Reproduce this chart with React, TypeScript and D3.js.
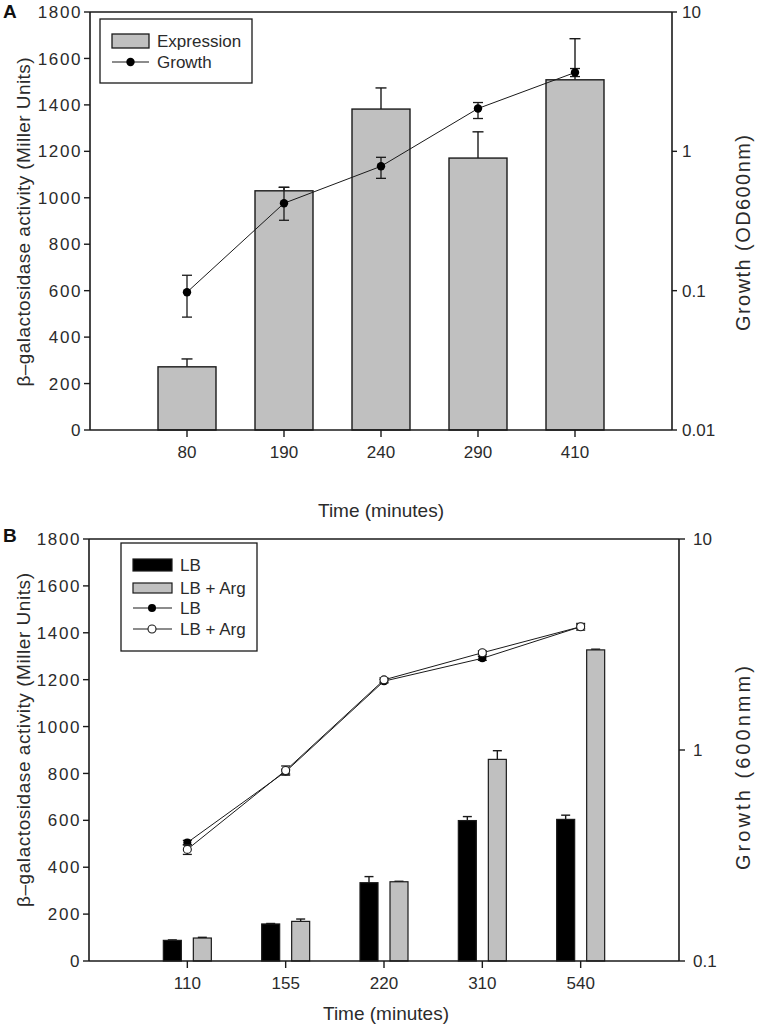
import React from "react";
import * as d3 from "d3";

// ---------- Panel A data ----------
const timesA = ["80", "190", "240", "290", "410"];
const expression = [272, 1030, 1382, 1171, 1508];
const expressionErrTop = [306, 1045, 1473, 1284, 1685];
const growthA = [0.0975, 0.424, 0.781, 2.03, 3.68];
const growthALo = [0.0646, 0.32, 0.64, 1.72, 3.44];
const growthAHi = [0.129, 0.552, 0.906, 2.24, 3.93];

// ---------- Panel B data ----------
const timesB = ["110", "155", "220", "310", "540"];
const lbBars = [88, 158, 334, 599, 604];
const lbBarsErrTop = [90, 160, 360, 616, 622];
const argBars = [98, 169, 338, 860, 1327];
const argBarsErrTop = [101, 179, 340, 897, 1330];
const growthLB = [0.364, 0.79, 2.12, 2.72, 3.84];
const growthLBLo = [0.355, 0.77, 2.08, 2.66, 3.76];
const growthLBHi = [0.373, 0.81, 2.16, 2.78, 3.92];
const growthArg = [0.338, 0.8, 2.15, 2.89, 3.84];
const growthArgLo = [0.32, 0.76, 2.1, 2.83, 3.7];
const growthArgHi = [0.356, 0.84, 2.2, 2.95, 3.98];

// ---------- Axis ticks ----------
const leftTicks = [0, 200, 400, 600, 800, 1000, 1200, 1400, 1600, 1800];
const rightTicksA = [0.01, 0.1, 1, 10];
const rightTickLabelsA = ["0.01", "0.1", "1", "10"];
const rightTicksB = [0.1, 1, 10];
const rightTickLabelsB = ["0.1", "1", "10"];

const FONT = "'Liberation Sans', Arial, Helvetica, sans-serif";
const TXT = "#2b2b2b";
const AX = "#1a1a1a";
const GRAY = "#c0c0c0";

type Geo = { left: number; right: number; top: number; bottom: number };

function Frame({ g, x, yL, yR, cats, rTicks, rLabels, rLabelOff, rTickLen }: any) {
  return (
    <g>
      <line x1={g.left} x2={g.right} y1={g.top} y2={g.top} stroke={AX} strokeWidth={1.4} />
      <line x1={g.left} x2={g.right} y1={g.bottom} y2={g.bottom} stroke={AX} strokeWidth={1.6} />
      <line x1={g.left} x2={g.left} y1={g.top} y2={g.bottom} stroke={AX} strokeWidth={1.6} />
      <line x1={g.right} x2={g.right} y1={g.top} y2={g.bottom} stroke={AX} strokeWidth={1.6} />
      {leftTicks.map((t) => (
        <g key={"l" + t}>
          <line x1={g.left - 6} x2={g.left} y1={yL(t)} y2={yL(t)} stroke={AX} strokeWidth={1.4} />
          <text x={g.left - 8} y={yL(t)} dy="0.36em" textAnchor="end" fontSize={17} fill={TXT} letterSpacing={1.6}>
            {t}
          </text>
        </g>
      ))}
      {rTicks.map((t: number, i: number) => (
        <g key={"r" + t}>
          <line x1={g.right} x2={g.right + rTickLen} y1={yR(t)} y2={yR(t)} stroke={AX} strokeWidth={1.4} />
          <text x={g.right + rLabelOff} y={yR(t)} dy="0.36em" textAnchor="start" fontSize={17} fill={TXT}>
            {rLabels[i]}
          </text>
        </g>
      ))}
      {cats.map((c: string) => (
        <g key={"x" + c}>
          <line x1={x(c)} x2={x(c)} y1={g.bottom} y2={g.bottom + 7} stroke={AX} strokeWidth={1.4} />
          <text x={x(c)} y={g.bottom + 28} textAnchor="middle" fontSize={17} fill={TXT}>
            {c}
          </text>
        </g>
      ))}
    </g>
  );
}

function ErrUp({ x, y0, y1, w }: any) {
  return (
    <g stroke={AX} strokeWidth={1.4}>
      <line x1={x} x2={x} y1={y0} y2={y1} />
      <line x1={x - w} x2={x + w} y1={y1} y2={y1} />
    </g>
  );
}

function ErrBoth({ x, ylo, yhi, w }: any) {
  return (
    <g stroke={AX} strokeWidth={1.3}>
      <line x1={x} x2={x} y1={ylo} y2={yhi} />
      <line x1={x - w} x2={x + w} y1={ylo} y2={ylo} />
      <line x1={x - w} x2={x + w} y1={yhi} y2={yhi} />
    </g>
  );
}

export default function App() {
  const gA: Geo = { left: 90, right: 672, top: 12, bottom: 430 };
  const xA = d3.scalePoint<string>().domain(timesA).range([gA.left, gA.right]).padding(1);
  const yAL = d3.scaleLinear().domain([0, 1800]).range([gA.bottom, gA.top]);
  const yAR = d3.scaleLog().domain([0.01, 10]).range([gA.bottom, gA.top]);
  const barWA = 58;
  const lineA = d3
    .line<number>()
    .x((_, i) => xA(timesA[i]) as number)
    .y((d) => yAR(d));

  const gB: Geo = { left: 89, right: 679, top: 539, bottom: 961 };
  const xB = d3.scalePoint<string>().domain(timesB).range([gB.left, gB.right]).padding(1);
  const yBL = d3.scaleLinear().domain([0, 1800]).range([gB.bottom, gB.top]);
  const yBR = d3.scaleLog().domain([0.1, 10]).range([gB.bottom, gB.top]);
  const barWB = 18;
  const offB = 15;
  const lineB = (arr: number[]) =>
    d3
      .line<number>()
      .x((_, i) => xB(timesB[i]) as number)
      .y((d) => yBR(d))(arr) as string;

  return (
    <svg
      width={760}
      height={1034}
      style={{ position: "absolute", left: 0, top: 0, background: "#fff" }}
      fontFamily={FONT}
    >
      <rect x={0} y={0} width={760} height={1034} fill="#fff" />

      {/* ================= Panel A ================= */}
      <text x={3} y={18} fontSize={19} fontWeight="bold" fill="#111">A</text>
      {timesA.map((t, i) => {
        const cx = xA(t) as number;
        return (
          <g key={"ba" + t}>
            <ErrUp x={cx} y0={yAL(expression[i])} y1={yAL(expressionErrTop[i])} w={5.5} />
            <rect
              x={cx - barWA / 2}
              y={yAL(expression[i])}
              width={barWA}
              height={yAL(0) - yAL(expression[i])}
              fill={GRAY}
              stroke={AX}
              strokeWidth={1.4}
            />
          </g>
        );
      })}
      <path d={lineA(growthA) as string} fill="none" stroke={AX} strokeWidth={1} />
      {timesA.map((t, i) => (
        <g key={"ga" + t}>
          <ErrBoth x={xA(t)} ylo={yAR(growthALo[i])} yhi={yAR(growthAHi[i])} w={5} />
          <circle cx={xA(t)} cy={yAR(growthA[i])} r={4.2} fill="#000" />
        </g>
      ))}
      <Frame
        g={gA}
        x={xA}
        yL={yAL}
        yR={yAR}
        cats={timesA}
        rTicks={rightTicksA}
        rLabels={rightTickLabelsA}
        rLabelOff={10}
        rTickLen={5}
      />
      <rect x={100} y={19} width={152} height={64} fill="#fff" stroke={AX} strokeWidth={1.3} />
      <rect x={112} y={34} width={37} height={14} fill={GRAY} stroke={AX} strokeWidth={1.3} />
      <text x={157} y={41} dy="0.36em" fontSize={17} fill={TXT}>Expression</text>
      <line x1={112} x2={149} y1={62} y2={62} stroke={AX} strokeWidth={1.2} />
      <circle cx={130.5} cy={62} r={4.2} fill="#000" />
      <text x={157} y={62} dy="0.36em" fontSize={17} fill={TXT}>Growth</text>
      <text x={381} y={517} textAnchor="middle" fontSize={19} fill={TXT}>Time (minutes)</text>
      <text
        transform="translate(30,222) rotate(-90)"
        textAnchor="middle"
        fontSize={19}
        fill={TXT}
        textLength={329}
        lengthAdjust="spacing"
      >
        β–galactosidase activity (Miller Units)
      </text>
      <text
        transform="translate(750,233) rotate(-90)"
        textAnchor="middle"
        fontSize={20}
        fill={TXT}
        textLength={196}
        lengthAdjust="spacing"
      >
        Growth (OD600nm)
      </text>

      {/* ================= Panel B ================= */}
      <text x={3} y={542} fontSize={19} fontWeight="bold" fill="#111">B</text>
      {timesB.map((t, i) => {
        const cx = xB(t) as number;
        return (
          <g key={"bb" + t}>
            <ErrUp x={cx - offB} y0={yBL(lbBars[i])} y1={yBL(lbBarsErrTop[i])} w={4.5} />
            <rect
              x={cx - offB - barWB / 2}
              y={yBL(lbBars[i])}
              width={barWB}
              height={yBL(0) - yBL(lbBars[i])}
              fill="#000"
              stroke={AX}
              strokeWidth={1.2}
            />
            <ErrUp x={cx + offB} y0={yBL(argBars[i])} y1={yBL(argBarsErrTop[i])} w={4.5} />
            <rect
              x={cx + offB - barWB / 2}
              y={yBL(argBars[i])}
              width={barWB}
              height={yBL(0) - yBL(argBars[i])}
              fill={GRAY}
              stroke={AX}
              strokeWidth={1.2}
            />
          </g>
        );
      })}
      <path d={lineB(growthLB)} fill="none" stroke={AX} strokeWidth={1} />
      <path d={lineB(growthArg)} fill="none" stroke={AX} strokeWidth={1} />
      {timesB.map((t, i) => (
        <g key={"gb" + t}>
          <ErrBoth x={xB(t)} ylo={yBR(growthLBLo[i])} yhi={yBR(growthLBHi[i])} w={4.5} />
          <circle cx={xB(t)} cy={yBR(growthLB[i])} r={4} fill="#000" />
          <ErrBoth x={xB(t)} ylo={yBR(growthArgLo[i])} yhi={yBR(growthArgHi[i])} w={4.5} />
          <circle cx={xB(t)} cy={yBR(growthArg[i])} r={4} fill="#fff" stroke={AX} strokeWidth={1.1} />
        </g>
      ))}
      <Frame
        g={gB}
        x={xB}
        yL={yBL}
        yR={yBR}
        cats={timesB}
        rTicks={rightTicksB}
        rLabels={rightTickLabelsB}
        rLabelOff={14}
        rTickLen={6}
      />
      <rect x={121} y={543} width={136} height={108} fill="#fff" stroke={AX} strokeWidth={1.3} />
      <rect x={133} y={559} width={39} height={12} fill="#000" stroke={AX} strokeWidth={1.2} />
      <text x={180} y={565} dy="0.36em" fontSize={17} fill={TXT}>LB</text>
      <rect x={133} y={583} width={39} height={10} fill={GRAY} stroke={AX} strokeWidth={1.2} />
      <text x={180} y={588} dy="0.36em" fontSize={17} fill={TXT}>LB + Arg</text>
      <line x1={133} x2={172} y1={608} y2={608} stroke={AX} strokeWidth={1.2} />
      <circle cx={152} cy={608} r={4} fill="#000" />
      <text x={180} y={608} dy="0.36em" fontSize={17} fill={TXT}>LB</text>
      <line x1={133} x2={172} y1={629} y2={629} stroke={AX} strokeWidth={1.2} />
      <circle cx={152} cy={629} r={4} fill="#fff" stroke={AX} strokeWidth={1.1} />
      <text x={180} y={629} dy="0.36em" fontSize={17} fill={TXT}>LB + Arg</text>
      <text x={386} y={1020} textAnchor="middle" fontSize={19} fill={TXT}>Time (minutes)</text>
      <text
        transform="translate(30,740) rotate(-90)"
        textAnchor="middle"
        fontSize={19}
        fill={TXT}
        textLength={334}
        lengthAdjust="spacing"
      >
        β–galactosidase activity (Miller Units)
      </text>
      <text
        transform="translate(750,768) rotate(-90)"
        textAnchor="middle"
        fontSize={20}
        fill={TXT}
        textLength={204}
        lengthAdjust="spacing"
      >
        Growth (600nmm)
      </text>
    </svg>
  );
}
